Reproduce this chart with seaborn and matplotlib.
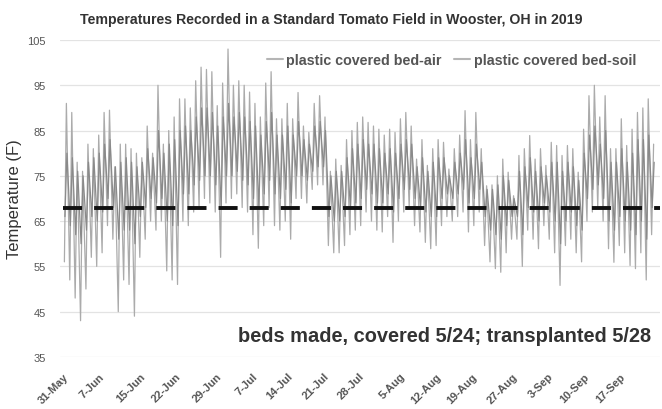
import matplotlib
matplotlib.use("Agg")
import matplotlib.pyplot as plt
import matplotlib.transforms as mtransforms
import numpy as np
import pandas as pd
import seaborn as sns

# Diurnal extremes (deg F), one entry per daily cycle from 31-May-2019 onward
air_high = [91, 89, 78, 76, 82, 81, 84, 89, 89.5, 77,
            82, 82, 81, 80, 79, 86, 80, 95, 82, 85,
            88, 92, 92, 90, 96, 99, 98.5, 98, 90.5, 95.5,
            103, 95, 96, 95, 93.5, 91, 88, 95.5, 98, 87.6,
            87.6, 91, 87.6, 93.4, 86, 84.6, 91, 92.7, 88, 76,
            78.7, 77.3, 83, 85, 86.8, 88, 86.8, 86, 85.3, 84,
            85.3, 84.6, 87.6, 89, 86, 78.7, 83, 77.3, 81, 83,
            82.4, 76.5, 81, 84, 89.4, 83, 89, 81, 72.8, 73,
            75, 78.7, 75.8, 70.6, 79.5, 81, 83.9, 78.7, 81, 77.3,
            82.4, 81.7, 79.5, 81.7, 81, 75.8, 85.3, 92.7, 95, 88,
            92.7, 81, 81, 87.6, 81.7, 85.3, 89, 90, 92, 82]
air_low = [56, 52, 48, 43, 50, 57, 55, 58, 64, 61,
           45, 52, 51, 44, 57, 61, 65, 63, 65, 54,
           52, 51, 65, 64, 67, 68, 70, 69, 67, 57,
           69, 70, 71, 68, 67, 62, 59, 64, 68, 64,
           63, 65, 61, 70, 70, 69, 72, 73, 73, 59.6,
           58, 58, 59.6, 62, 63, 64, 67, 65, 63, 62.6,
           66, 60.3, 65, 67, 68, 64, 62.6, 60.3, 58.9, 59.6,
           64, 66, 65, 66, 67, 62.6, 64, 67, 59.6, 56,
           54.5, 53.7, 58, 61, 61, 55, 63, 61, 58.9, 64,
           61, 58, 50.8, 59.6, 61, 58, 56, 65, 67, 68,
           65, 58.9, 55.9, 59.6, 58, 55.2, 54.5, 58, 52, 62]
soil_high = [80, 79, 76, 75, 78, 79, 80, 82, 83, 77,
             78, 79, 78, 77, 78, 81, 79, 85, 80, 82,
             83, 85, 86, 85, 88, 90, 90, 89, 86, 88,
             91, 88, 89, 88, 87, 86, 84, 87, 89, 84,
             84, 86, 84, 87, 83, 82, 86, 87, 85, 75,
             76, 76, 79, 81, 82, 83, 82, 82, 81, 80,
             81, 80, 82, 83, 82, 77, 79, 76, 78, 79,
             79, 75, 78, 80, 83, 79, 82, 78, 72, 72,
             73, 75, 74, 70, 76, 77, 79, 76, 77, 75,
             78, 78, 76, 78, 77, 74, 80, 84, 86, 82,
             85, 78, 78, 81, 78, 80, 83, 83, 84, 78]
soil_low = [66, 64, 62, 60, 63, 66, 65, 67, 70, 68,
            61, 63, 63, 60, 66, 68, 70, 69, 70, 65,
            64, 64, 71, 71, 73, 74, 75, 75, 73, 68,
            75, 75, 76, 74, 73, 70, 68, 71, 74, 71,
            70, 72, 69, 75, 75, 74, 76, 77, 77, 66,
            65, 65, 66, 68, 69, 70, 72, 71, 69, 69,
            71, 67, 70, 72, 72, 70, 68, 67, 66, 66,
            70, 71, 70, 71, 72, 69, 70, 72, 66, 63,
            62, 61, 64, 66, 66, 62, 68, 67, 65, 69,
            67, 65, 60, 65, 67, 64, 63, 70, 72, 73,
            70, 65, 63, 66, 65, 63, 62, 65, 61, 68]

series_names = ["plastic covered bed-air", "plastic covered bed-soil"]
series_colors = ["#ababab", "#8a8a8a"]
threshold = 68

tick_days = [0, 7, 15, 22, 30, 37, 44, 51, 58, 66, 73, 80, 88, 95, 102, 109]
tick_labels = ["31-May", "7-Jun", "15-Jun", "22-Jun", "29-Jun", "7-Jul", "14-Jul",
               "21-Jul", "28-Jul", "5-Aug", "12-Aug", "19-Aug", "27-Aug",
               "3-Sep", "10-Sep", "17-Sep"]
y_ticks = [35, 45, 55, 65, 75, 85, 95, 105]

# The record runs 116 days; spread the daily cycles over that span
record_days = 116
step = record_days / len(air_high)

rows = []
for i, (lo, hi) in enumerate(zip(air_low, air_high)):
    rows.append(((i + 0.25) * step, lo, series_names[0]))
    rows.append(((i + 0.62) * step, hi, series_names[0]))
for i, (lo, hi) in enumerate(zip(soil_low, soil_high)):
    rows.append(((i + 0.35) * step, lo, series_names[1]))
    rows.append(((i + 0.72) * step, hi, series_names[1]))
df = pd.DataFrame(rows, columns=["day", "temp", "series"])

sns.set_theme(style="white")
plt.rcParams["font.family"] = ["Liberation Sans", "DejaVu Sans"]

fig = plt.figure(figsize=(6.62, 4.10), dpi=100)
ax = fig.add_axes([0.0906, 0.127, 0.906, 0.773])

sns.lineplot(data=df, x="day", y="temp", hue="series", hue_order=series_names,
             palette=series_colors, estimator=None, sort=True, linewidth=0.9,
             ax=ax, legend=False)

x_left, x_right = -0.6, 116.8
ax.hlines(threshold, 0, x_right, colors="#111111", linewidth=2.8,
          linestyles=(0, (4.9, 3.1)), zorder=5)

ax.set_xlim(x_left, x_right)
ax.set_ylim(35, 105)
ax.set_yticks(y_ticks)
ax.set_yticklabels([str(v) for v in y_ticks])
ax.yaxis.grid(True, color="#e3e3e3", linewidth=0.9)
ax.xaxis.grid(False)
for s in ax.spines.values():
    s.set_visible(False)

ax.set_xticks(tick_days)
ax.set_xticklabels(tick_labels, rotation=45, ha="right", rotation_mode="anchor",
                   fontsize=8, fontweight="bold", color="#555555")
shift = mtransforms.ScaledTranslation(-1 / 100, 0, fig.dpi_scale_trans)
for lab in ax.get_xticklabels():
    lab.set_transform(lab.get_transform() + shift)
ax.tick_params(axis="x", length=0, pad=10)
ax.tick_params(axis="y", length=0, pad=10, labelsize=8, labelcolor="#555555")

ax.set_xlabel("")
ax.set_ylabel("Temperature (F)", fontsize=12, color="#333333", labelpad=4)

handles = [plt.Line2D([], [], color=c, linewidth=1.5) for c in ["#b5b5b5", "#b5b5b5"]]
leg = ax.legend(handles, series_names, loc="upper right", ncol=2, frameon=False,
                bbox_to_anchor=(0.975, 0.985), handlelength=1.1, handletextpad=0.25,
                columnspacing=0.9, borderaxespad=0.2,
                prop={"size": 10.3, "weight": "bold"})
for t in leg.get_texts():
    t.set_color("#555555")

ax.text(0.985, 0.069, "beds made, covered 5/24; transplanted 5/28",
        transform=ax.transAxes, ha="right", va="center", fontsize=14.4,
        fontweight="bold", color="#333333")

fig.text(0.5, 1 - 20 / 410,
         "Temperatures Recorded in a Standard Tomato Field in Wooster, OH in 2019",
         ha="center", va="center", fontsize=10.2, fontweight="bold", color="#333333")

fig.savefig("out.png", dpi=100, facecolor="white")
